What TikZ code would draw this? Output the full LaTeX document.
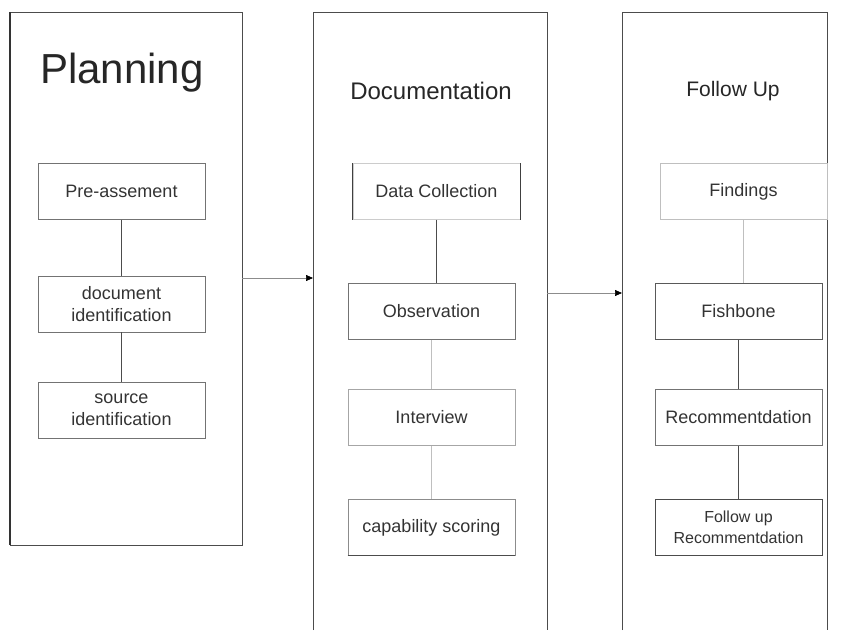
\documentclass[tikz,border=0pt]{standalone}
\usepackage{fontspec}
\setmainfont{Liberation Sans}
\usetikzlibrary{arrows.meta}
\begin{document}
\begin{tikzpicture}[x=1pt,y=-1pt,
  panel/.style={draw=black!70,line width=0.9pt},
  stage/.style={draw=black!55,line width=0.8pt,minimum width=167pt,minimum height=56pt,
    align=center,font=\fontsize{18}{22}\selectfont,text=black!80,inner sep=0pt},
  faint/.style={draw=black!25},
  link/.style={draw=black!70,line width=0.8pt},
  lightlink/.style={draw=black!25,line width=0.8pt},
  flow/.style={draw=black!45,line width=0.7pt,-{Triangle[length=7pt,width=6pt,color=black]}}]
\useasboundingbox (0,0) rectangle (844,630);
% panels
\draw[panel] (242,12) -- (10,12) -- (10,545) -- (242,545) -- cycle;
\draw[line width=1.4pt,black!80] (10,12) -- (10,545);
\draw[panel] (313,630) -- (313,12) -- (547,12) -- (547,630);
\draw[panel] (622,630) -- (622,12) -- (827,12) -- (827,630);
\coordinate (p1r) at (242,278);
\coordinate (p2l) at (313,278);
\coordinate (p2r) at (547,293);
\coordinate (p3l) at (622,293);
% titles
\node[font=\fontsize{42}{46}\selectfont,text=black!85] (t1) at (122,73) {Planning};
\node[font=\fontsize{24}{28}\selectfont,text=black!85] (t2) at (431,91) {Documentation};
\node[font=\fontsize{21}{24}\selectfont,text=black!85] (t3) at (733,91) {Follow Up};
% planning stages
\node[stage] (a1) at (121.5,191.5) {Pre-assement};
\node[stage] (a2) at (121.5,304) {document\\identification};
\node[stage] (a3) at (121.5,410) {source\\identification};
% documentation stages
\node[stage,draw=black!20] (b1) at (436.5,191.5) {Data Collection};
\draw[line width=1pt,black!75] (b1.north west) -- (b1.south west) (b1.north east) -- (b1.south east);
\node[stage] (b2) at (431.5,311.5) {Observation};
\node[stage,draw=black!35] (b3) at (431.5,417.5) {Interview};
\node[stage,draw=black!45] (b4) at (431.5,527.5) {capability scoring};
\draw[line width=1pt,black!70] (b4.south west) -- (b4.south east);
% follow up stages
\node[stage,faint] (c1) at (743.5,191.5) {Findings};
\node[stage,draw=black!65] (c2) at (738.5,311.5) {Fishbone};
\node[stage] (c3) at (738.5,417.5) {Recommentdation};
\node[stage,draw=black!70,font=\fontsize{16}{21}\selectfont] (c4) at (738.5,527.5) {Follow up\\Recommentdation};
% connectors
\draw[link] (a1) -- (a2);
\draw[link] (a2) -- (a3);
\draw[link] (b1.south -| 436,0) -- (b2.north -| 436,0);
\draw[lightlink] (b2) -- (b3);
\draw[lightlink] (b3) -- (b4);
\draw[lightlink] (c1.south -| 743,0) -- (c2.north -| 743,0);
\draw[link] (c2) -- (c3);
\draw[link] (c3) -- (c4);
% flow between panels
\draw[flow] (p1r) -- (p2l);
\draw[flow] (p2r) -- (p3l);
\end{tikzpicture}
\end{document}
